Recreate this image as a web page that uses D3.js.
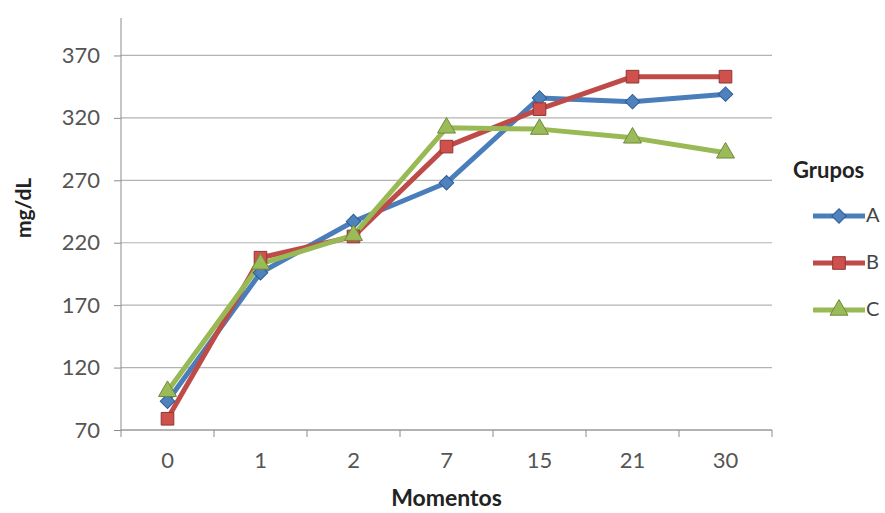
<!DOCTYPE html>
<html>
<head>
<meta charset="utf-8">
<script src="https://cdn.jsdelivr.net/npm/d3@7"></script>
<style>
  html, body { margin: 0; padding: 0; background: #ffffff; }
  svg { display: block; }
  text { font-family: Lato, "Open Sans", sans-serif; }
</style>
</head>
<body>
<svg id="chart" width="885" height="513"></svg>
<script>
const categories = ["0", "1", "2", "7", "15", "21", "30"];
const seriesNames = ["A", "B", "C"];
const valuesA = [93, 196, 237, 268, 336, 333, 339];
const valuesB = [79, 208, 225, 297, 327, 353, 353];
const valuesC = [101, 203, 226, 312, 311, 304, 292];
const yTicks = [70, 120, 170, 220, 270, 320, 370];
const xTitle = "Momentos";
const yTitle = "mg/dL";
const legendTitle = "Grupos";

(function () {
const series = [
  { name: seriesNames[0], values: valuesA, line: "#4A7EBB", fill: "#4F81BD", edge: "#2E5C94", shape: d3.symbolSquare, size: 105, rot: 45 },
  { name: seriesNames[1], values: valuesB, line: "#BE4B48", fill: "#D0504C", edge: "#8C3836", shape: d3.symbolSquare, size: 160, rot: 0 },
  { name: seriesNames[2], values: valuesC, line: "#98B954", fill: "#9BBB59", edge: "#6E8A3A", shape: d3.symbolTriangle, size: 140, rot: 0 }
];

const svg = d3.select("#chart");
const pLeft = 121, pRight = 772, pTop = 18, pBottom = 430;

const x = d3.scaleBand().domain(categories).range([pLeft, pRight]);
const y = d3.scaleLinear().domain([70, 400]).range([pBottom, pTop]);

// gridlines
svg.append("g").selectAll("line").data(yTicks).join("line")
  .attr("x1", pLeft).attr("x2", pRight)
  .attr("y1", d => y(d)).attr("y2", d => y(d))
  .attr("stroke", "#b3b3b3").attr("stroke-width", 1.2);

// y axis
const yAxis = d3.axisLeft(y).tickValues(yTicks).tickSize(7).tickPadding(14);
const gy = svg.append("g").attr("transform", `translate(${pLeft},0)`).call(yAxis);
gy.select(".domain").attr("d", `M0,${pTop}V${pBottom}`).attr("stroke", "#8c8c8c");
gy.selectAll(".tick line").attr("stroke", "#8c8c8c");
gy.selectAll(".tick text").attr("fill", "#555").style("font-size", "22px");

// x axis
const xAxis = d3.axisBottom(x).tickSize(0).tickPadding(22);
const gx = svg.append("g").attr("transform", `translate(0,${pBottom})`).call(xAxis);
gx.select(".domain").attr("d", `M${pLeft},0H${pRight}`).attr("stroke", "#8c8c8c");
gx.selectAll(".tick text").attr("fill", "#555").style("font-size", "22px");
const bounds = categories.map(c => x(c)).concat([pRight]);
gx.selectAll("line.sep").data(bounds).join("line").attr("class", "sep")
  .attr("x1", d => d).attr("x2", d => d).attr("y1", 0).attr("y2", 7)
  .attr("stroke", "#8c8c8c");

// titles
svg.append("text").attr("x", (pLeft + pRight) / 2).attr("y", 500)
  .attr("text-anchor", "middle").attr("dominant-baseline", "middle")
  .style("font-size", "23px").style("font-weight", "bold").attr("fill", "#222")
  .text(xTitle);
svg.append("text").attr("transform", "translate(26,208) rotate(-90)")
  .attr("text-anchor", "middle").attr("dominant-baseline", "middle")
  .style("font-size", "21px").style("font-weight", "bold").attr("fill", "#222")
  .text(yTitle);

// lines and markers
const line = d3.line().x((d, i) => x(categories[i]) + x.bandwidth() / 2).y(d => y(d));
series.forEach(s => {
  svg.append("path").datum(s.values).attr("d", line)
    .attr("fill", "none").attr("stroke", s.line).attr("stroke-width", 5)
    .attr("stroke-linejoin", "round");
});
series.forEach(s => {
  svg.append("g").selectAll("path").data(s.values).join("path")
    .attr("transform", (d, i) => `translate(${x(categories[i]) + x.bandwidth() / 2},${y(d)}) rotate(${s.rot})`)
    .attr("d", d3.symbol().type(s.shape).size(s.size))
    .attr("fill", s.fill).attr("stroke", s.edge).attr("stroke-width", 1);
});

// legend
svg.append("text").attr("x", 793).attr("y", 172).attr("dominant-baseline", "middle")
  .style("font-size", "22px").style("font-weight", "bold").attr("fill", "#222")
  .text(legendTitle);
const legendY = [216, 263, 310];
series.forEach((s, i) => {
  const g = svg.append("g").attr("transform", `translate(0,${legendY[i]})`);
  g.append("line").attr("x1", 813).attr("x2", 865).attr("y1", 0).attr("y2", 0)
    .attr("stroke", s.line).attr("stroke-width", 5);
  g.append("path").attr("transform", `translate(839,0) rotate(${s.rot})`)
    .attr("d", d3.symbol().type(s.shape).size(s.size))
    .attr("fill", s.fill).attr("stroke", s.edge).attr("stroke-width", 1);
  g.append("text").attr("x", 866).attr("y", 1).attr("dominant-baseline", "middle")
    .style("font-size", "20px").attr("fill", "#444").text(s.name);
});
})();
</script>
</body>
</html>
